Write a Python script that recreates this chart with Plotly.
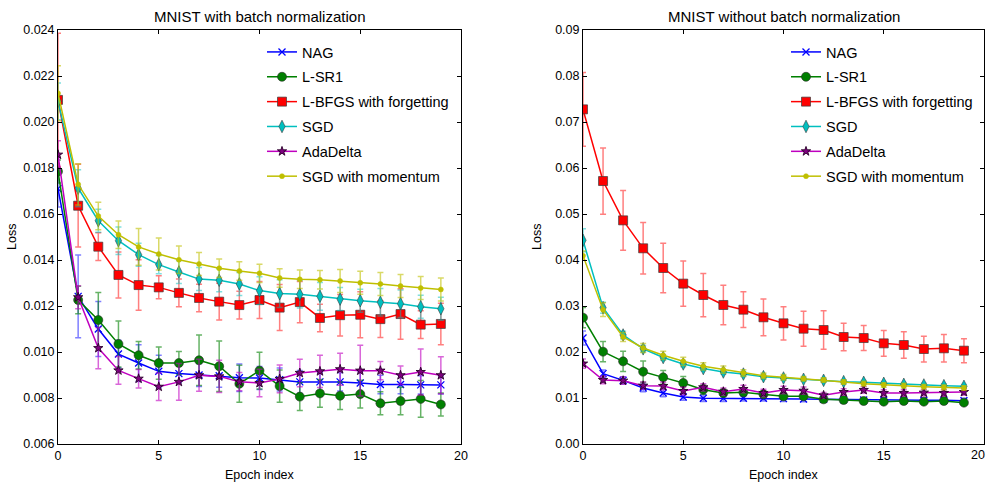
import plotly.graph_objects as go

epochs = list(range(20))
names = ["NAG", "L-SR1", "L-BFGS with forgetting", "SGD", "AdaDelta", "SGD with momentum"]
x_ticks = [0, 5, 10, 15, 20]

# ---- MNIST with batch normalization ----
bn_nag = [0.0171, 0.01242, 0.0110, 0.00991, 0.00952, 0.00916, 0.00906, 0.00900, 0.00897, 0.00888,
          0.00887, 0.00880, 0.00870, 0.00870, 0.00870, 0.00865, 0.00859, 0.00859, 0.00857, 0.00857]
bn_nag_err = [0.0008, 0.0018, 0.0012, 0.0006, 0.0008, 0.0007, 0.0004, 0.0005, 0.0005, 0.0006,
              0.0005, 0.0005, 0.0005, 0.0004, 0.0004, 0.0005, 0.0004, 0.0004, 0.0004, 0.0004]
bn_lsr1 = [0.01785, 0.01226, 0.01139, 0.01035, 0.00986, 0.00952, 0.00952, 0.00964, 0.00938, 0.00862,
           0.00919, 0.00852, 0.00806, 0.00820, 0.00810, 0.00817, 0.00777, 0.00787, 0.00796, 0.00772]
bn_lsr1_err = [0.0005, 0.0006, 0.0012, 0.0010, 0.0006, 0.0007, 0.0005, 0.0011, 0.0011, 0.0008,
               0.0008, 0.0007, 0.0006, 0.0006, 0.0006, 0.0006, 0.0005, 0.0006, 0.0008, 0.0005]
bn_lbfgs = [0.02096, 0.01636, 0.01458, 0.01335, 0.01291, 0.01281, 0.01257, 0.01235, 0.01219, 0.01204,
            0.01226, 0.01193, 0.01217, 0.01148, 0.01160, 0.01162, 0.01143, 0.01165, 0.01119, 0.01122]
bn_lbfgs_err = [0.0029, 0.0018, 0.0006, 0.0010, 0.0011, 0.0005, 0.0006, 0.0006, 0.0008, 0.0006,
                0.0008, 0.0010, 0.0009, 0.0006, 0.0009, 0.0010, 0.0008, 0.0011, 0.0006, 0.0009]
bn_sgd = [0.0209, 0.01712, 0.01571, 0.01484, 0.01423, 0.01380, 0.01348, 0.01317, 0.01312, 0.01296,
          0.01267, 0.01254, 0.01251, 0.01242, 0.01230, 0.01223, 0.01216, 0.01210, 0.01197, 0.01188]
bn_sgd_err = [0.0008, 0.0008, 0.0005, 0.0006, 0.0005, 0.0004, 0.0005, 0.0005, 0.0005, 0.0005,
              0.0006, 0.0006, 0.0006, 0.0006, 0.0005, 0.0005, 0.0006, 0.0006, 0.0005, 0.0005]
bn_ada = [0.01858, 0.01238, 0.01017, 0.00920, 0.00884, 0.00849, 0.00870, 0.00899, 0.00894, 0.00871,
          0.00865, 0.00883, 0.00909, 0.00916, 0.00925, 0.00919, 0.00919, 0.00899, 0.00913, 0.00899]
bn_ada_err = [0.0006, 0.0005, 0.0009, 0.0006, 0.0004, 0.0006, 0.0008, 0.0007, 0.0007, 0.0004,
              0.0006, 0.0006, 0.0006, 0.0007, 0.0007, 0.0011, 0.0004, 0.0004, 0.0010, 0.0008]
bn_mom = [0.02125, 0.01729, 0.01591, 0.0151, 0.01457, 0.01426, 0.01401, 0.01383, 0.01364, 0.01352,
          0.01342, 0.01322, 0.01316, 0.01314, 0.01309, 0.01301, 0.01296, 0.01287, 0.01278, 0.01272]
bn_mom_err = [0.0012, 0.0009, 0.0006, 0.0006, 0.0008, 0.0007, 0.0006, 0.0005, 0.0004, 0.0004,
              0.0004, 0.0004, 0.0004, 0.0004, 0.0005, 0.0005, 0.0005, 0.0005, 0.0005, 0.0005]

# ---- MNIST without batch normalization ----
nb_nag = [0.02304, 0.0153, 0.01383, 0.01217, 0.01109, 0.01022, 0.00993, 0.00993, 0.00993, 0.00993,
          0.00986, 0.00978, 0.00971, 0.00964, 0.00957, 0.00957, 0.00950, 0.00950, 0.00950, 0.00942]
nb_nag_err = [0.0015, 0.0008, 0.0008, 0.0008, 0.0008, 0.0007, 0.0007, 0.0007, 0.0006, 0.0006,
              0.0006, 0.0006, 0.0005, 0.0005, 0.0005, 0.0005, 0.0005, 0.0005, 0.0005, 0.0005]
nb_lsr1 = [0.02746, 0.02007, 0.01797, 0.01572, 0.01449, 0.01326, 0.01181, 0.01109, 0.01123, 0.0108,
           0.01036, 0.01036, 0.00971, 0.00957, 0.00935, 0.0092, 0.00935, 0.0092, 0.00935, 0.00899]
nb_lsr1_err = [0.0022, 0.0022, 0.0022, 0.0023, 0.0015, 0.0014, 0.0010, 0.0008, 0.0008, 0.0007,
               0.0007, 0.0006, 0.0005, 0.0005, 0.0005, 0.0005, 0.0005, 0.0005, 0.0005, 0.0005]
nb_lbfgs = [0.07275, 0.05717, 0.04862, 0.04254, 0.03826, 0.03486, 0.03239, 0.03022, 0.0292, 0.02754,
            0.02623, 0.02507, 0.02478, 0.02326, 0.02304, 0.02188, 0.02152, 0.02065, 0.0208, 0.02029]
nb_lbfgs_err = [0.0080, 0.0072, 0.0065, 0.0056, 0.0054, 0.0049, 0.0047, 0.0043, 0.0039, 0.0040,
                0.0036, 0.0038, 0.0042, 0.0030, 0.0027, 0.0028, 0.0029, 0.0028, 0.0030, 0.0026]
nb_sgd = [0.04428, 0.02964, 0.0237, 0.0207, 0.0188, 0.0174, 0.0164, 0.01565, 0.0152, 0.01464,
          0.01435, 0.01406, 0.01384, 0.01355, 0.0134, 0.01319, 0.01297, 0.01283, 0.01268, 0.01254]
nb_sgd_err = [0.0025, 0.0012, 0.0008, 0.0007, 0.0006, 0.0006, 0.0005, 0.0005, 0.0005, 0.0005,
              0.0005, 0.0004, 0.0004, 0.0004, 0.0004, 0.0004, 0.0004, 0.0004, 0.0004, 0.0004]
nb_ada = [0.01748, 0.01391, 0.01377, 0.01268, 0.01261, 0.01152, 0.01232, 0.01138, 0.01196, 0.01109,
          0.01174, 0.01159, 0.01058, 0.0113, 0.01174, 0.01109, 0.01109, 0.01116, 0.01109, 0.0113]
nb_ada_err = [0.0010, 0.0008, 0.0008, 0.0008, 0.0008, 0.0008, 0.0008, 0.0008, 0.0008, 0.0008,
              0.0008, 0.0008, 0.0006, 0.0007, 0.0007, 0.0007, 0.0007, 0.0007, 0.0007, 0.0007]
nb_mom = [0.04094, 0.0292, 0.02326, 0.02087, 0.01928, 0.01797, 0.01688, 0.01616, 0.01543, 0.01486,
          0.01449, 0.0142, 0.01391, 0.01348, 0.01312, 0.01283, 0.01268, 0.01246, 0.01232, 0.01217]
nb_mom_err = [0.0010, 0.0015, 0.0010, 0.0010, 0.0009, 0.0009, 0.0008, 0.0008, 0.0007, 0.0006,
              0.0006, 0.0005, 0.0005, 0.0005, 0.0005, 0.0005, 0.0005, 0.0005, 0.0005, 0.0005]

colors = ["#0000FF", "#008000", "#FF0000", "#00BFBF", "#BF00BF", "#BFBF00"]
err_colors = ["rgba(0,0,255,0.5)", "rgba(0,128,0,0.6)", "rgba(255,0,0,0.5)",
              "rgba(0,191,191,0.5)", "rgba(191,0,191,0.6)", "rgba(191,191,0,0.6)"]
symbols = ["x-thin-open", "circle", "square", "diamond-tall", "star", "circle"]
sizes = [7, 9, 9, 9, 7, 5]
edge = ["#0000FF", "rgba(40,40,40,0.6)", "rgba(60,60,60,0.7)", "rgba(60,60,60,0.6)",
        "rgba(40,0,40,0.9)", "#BFBF00"]
fills = ["#0000FF", "#008000", "#FF0000", "#00BFBF", "#800080", "#BFBF00"]
edge_w = [1.3, 1, 1, 1, 1, 0.5]

bn_vals = [bn_nag, bn_lsr1, bn_lbfgs, bn_sgd, bn_ada, bn_mom]
bn_errs = [bn_nag_err, bn_lsr1_err, bn_lbfgs_err, bn_sgd_err, bn_ada_err, bn_mom_err]
nb_vals = [nb_nag, nb_lsr1, nb_lbfgs, nb_sgd, nb_ada, nb_mom]
nb_errs = [nb_nag_err, nb_lsr1_err, nb_lbfgs_err, nb_sgd_err, nb_ada_err, nb_mom_err]

FONT = "Liberation Sans, Arial, sans-serif"
W, H = 990, 485
R_X0, R_X1 = 583, 984  # right panel horizontal extent in pixels

fig = go.Figure()
for panel, (vals, errs, xa, ya, lg) in enumerate([
        (bn_vals, bn_errs, "x", "y", "legend"),
        (nb_vals, nb_errs, "x2", "y2", "legend2")]):
    for i, name in enumerate(names):
        fig.add_trace(go.Scatter(
            x=epochs, y=vals[i], name=name, mode="lines+markers",
            xaxis=xa, yaxis=ya, legend=lg, legendgroup=f"p{panel}_{i}",
            line=dict(color=colors[i], width=1.5),
            marker=dict(symbol=symbols[i], size=sizes[i], color=fills[i],
                        line=dict(color=edge[i], width=edge_w[i])),
            error_y=dict(type="data", array=errs[i], visible=True,
                         color=err_colors[i], thickness=1.5, width=3),
        ))

axis_common = dict(showgrid=False, zeroline=False, showline=True, linecolor="black",
                   linewidth=1, mirror="ticks", ticks="inside", ticklen=4,
                   tickcolor="black", ticklabeloverflow="allow",
                   tickfont=dict(family=FONT, size=12.5, color="black"))

legend_common = dict(xanchor="left", yanchor="top", bgcolor="rgba(0,0,0,0)",
                     font=dict(family=FONT, size=14.5, color="black"),
                     itemwidth=30, tracegroupgap=3)

# right panel: the last tick label sits on the page edge, so it is drawn as a text label
right_ticktext = [str(v) for v in x_ticks[:-1]] + [""]

fig.update_layout(
    width=W, height=H,
    margin=dict(l=0, r=0, t=0, b=0, autoexpand=False),
    paper_bgcolor="white", plot_bgcolor="white",
    font=dict(family=FONT, color="black"),
    xaxis=dict(domain=[58 / W, 461 / W], range=[0, 20], tickvals=x_ticks, anchor="y", **axis_common),
    yaxis=dict(domain=[41 / H, 455 / H], range=[0.006, 0.024], dtick=0.002,
               tickformat=".3f", anchor="x", **axis_common),
    xaxis2=dict(domain=[R_X0 / W, R_X1 / W], range=[0, 20], tickvals=x_ticks,
                ticktext=right_ticktext, anchor="y2", **axis_common),
    yaxis2=dict(domain=[41 / H, 455 / H], range=[0, 0.09], dtick=0.01,
                tickformat=".2f", anchor="x2", **axis_common),
    legend=dict(x=262 / W, y=1 - 36 / H, **legend_common),
    legend2=dict(x=786 / W, y=1 - 36 / H, **legend_common),
    showlegend=True,
)

fig.add_annotation(text=str(x_ticks[-1]), x=987 / W, xref="paper", y=1 - 455 / H, yref="paper",
                   xanchor="right", yanchor="middle", showarrow=False,
                   font=dict(family=FONT, size=12.5, color="black"))

annots = [
    dict(text="MNIST with batch normalization", x=259.5 / W, y=1 - 17 / H, size=15),
    dict(text="MNIST without batch normalization", x=783.5 / W, y=1 - 17 / H, size=15),
    dict(text="Epoch index", x=259.5 / W, y=1 - 475 / H, size=12.5),
    dict(text="Epoch index", x=783.5 / W, y=1 - 475 / H, size=12.5),
]
for a in annots:
    fig.add_annotation(text=a["text"], x=a["x"], y=a["y"], xref="paper", yref="paper",
                       xanchor="center", yanchor="middle", showarrow=False,
                       font=dict(family=FONT, size=a["size"], color="black"))
for xp in [12 / W, 537 / W]:
    fig.add_annotation(text="Loss", x=xp, y=1 - 237 / H, xref="paper", yref="paper",
                       xanchor="center", yanchor="middle", showarrow=False, textangle=-90,
                       font=dict(family=FONT, size=12.5, color="black"))

fig.write_html("out.html", config={"displayModeBar": False},
               post_script="document.body.style.margin='0';document.body.style.padding='0';"
                           "document.body.style.overflow='hidden';")
